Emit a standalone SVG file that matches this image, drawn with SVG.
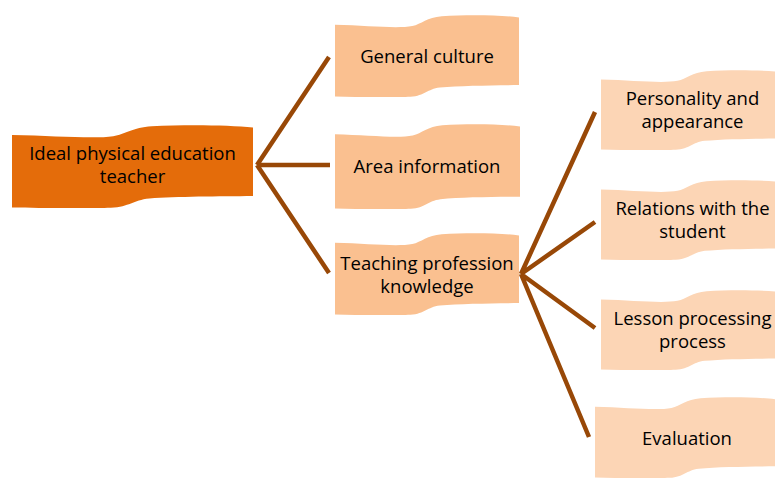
<svg xmlns="http://www.w3.org/2000/svg" xmlns:xlink="http://www.w3.org/1999/xlink" width="775" height="479" viewBox="0 0 775 479">
  <style>
    .root { fill: #E46C0A; }
    .mid { fill: #FAC090; }
    .leaf { fill: #FCD5B5; }
    .label { font-family: "Open Sans", "Liberation Sans", sans-serif; font-size: 18.5px; fill: #000; text-anchor: middle; }
    .link { stroke: #984807; stroke-width: 4.5; fill: none; stroke-linecap: butt; }
  </style>
  <defs>
    <!-- wavy banner outline in a 100x100 box, stretched per node -->
    <symbol id="wave" viewBox="0 0 100 100" preserveAspectRatio="none">
      <path d="M0,12 C18,13 34,17 42,13.5 C47,11 50,3 58,1.5 C72,-0.5 90,0 100,3 L100,85.5 C86,86 68,86 57,88.5 C50,90.5 49,98.5 41,99.8 C27,101 12,100 0,99.5 Z"/>
    </symbol>
  </defs>

  <g id="connectors">
    <path class="link" d="M257,165 L329,57 M257,165 L330,165 M257,165 L329,273"/>
    <path class="link" d="M521,274 L595,112 M521,274 L595,222 M521,274 L595,328 M521,274 L589,437"/>
  </g>

  <g id="n-root">
    <use xlink:href="#wave" class="root" x="12" y="125" width="241" height="83"/>
    <text class="label" x="132.5" y="160">Ideal physical education</text>
    <text class="label" x="132.5" y="183">teacher</text>
  </g>

  <g id="n-general">
    <use xlink:href="#wave" class="mid" x="335" y="15" width="184" height="82"/>
    <text class="label" x="427" y="63">General culture</text>
  </g>

  <g id="n-area">
    <use xlink:href="#wave" class="mid" x="335" y="124" width="185" height="85"/>
    <text class="label" x="427" y="173">Area information</text>
  </g>

  <g id="n-teaching">
    <use xlink:href="#wave" class="mid" x="335" y="233" width="184" height="82"/>
    <text class="label" x="427" y="270">Teaching profession</text>
    <text class="label" x="427" y="293">knowledge</text>
  </g>

  <g id="n-personality">
    <use xlink:href="#wave" class="leaf" x="601" y="70" width="182" height="80"/>
    <text class="label" x="692.5" y="105">Personality and</text>
    <text class="label" x="692.5" y="128">appearance</text>
  </g>

  <g id="n-relations">
    <use xlink:href="#wave" class="leaf" x="601" y="180" width="182" height="80"/>
    <text class="label" x="692.5" y="215">Relations with the</text>
    <text class="label" x="692.5" y="238">student</text>
  </g>

  <g id="n-lesson">
    <use xlink:href="#wave" class="leaf" x="601" y="290" width="182" height="80"/>
    <text class="label" x="692.5" y="325">Lesson processing</text>
    <text class="label" x="692.5" y="348">process</text>
  </g>

  <g id="n-evaluation">
    <use xlink:href="#wave" class="leaf" x="595" y="397" width="182" height="81"/>
    <text class="label" x="687" y="445">Evaluation</text>
  </g>
</svg>
